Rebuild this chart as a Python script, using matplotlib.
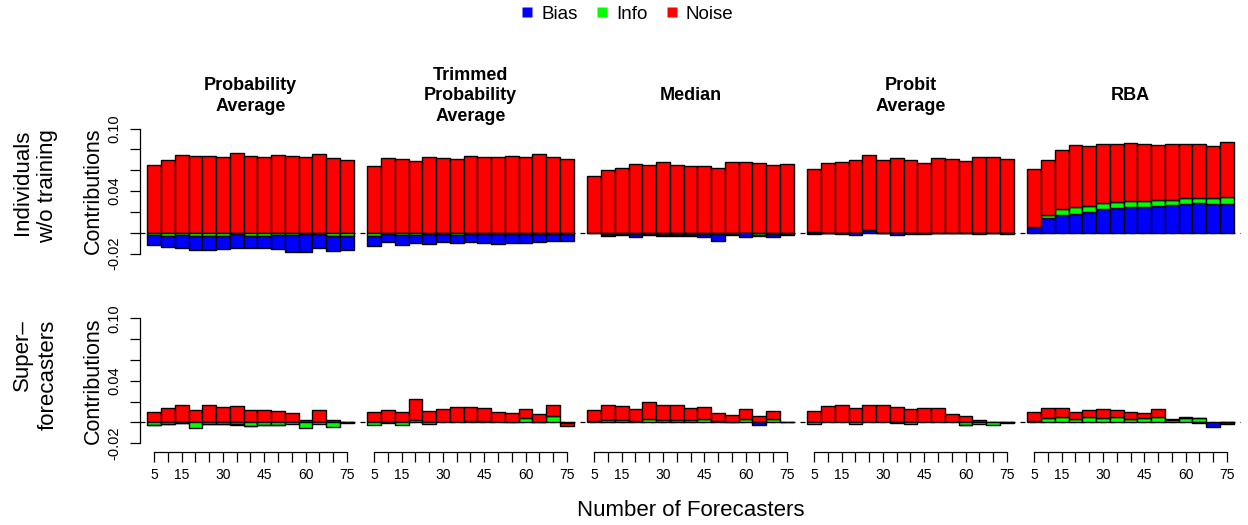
import numpy as np
import matplotlib
matplotlib.use("Agg")
import matplotlib.pyplot as plt
from matplotlib.lines import Line2D

plt.rcParams['font.family'] = ['Liberation Sans', 'DejaVu Sans']

# ---- data ----
n_forecasters = [5, 10, 15, 20, 25, 30, 35, 40, 45, 50, 55, 60, 65, 70, 75]
shown_labels = [5, 15, 30, 45, 60, 75]
methods = ["Probability\nAverage", "Trimmed\nProbability\nAverage", "Median",
           "Probit\nAverage", "RBA"]
groups = ["Individuals\nw/o training", "Super\u2013\nforecasters"]

# individuals without training: one row per method
bias_untrained = [
    [-0.0093, -0.0104, -0.013, -0.0136, -0.0136, -0.0118, -0.0134, -0.012, -0.0114, -0.0137, -0.0162, -0.0172, -0.014, -0.0143, -0.0133],
    [-0.0095, -0.0076, -0.0098, -0.0077, -0.0102, -0.0083, -0.0082, -0.0085, -0.0088, -0.0097, -0.0094, -0.0088, -0.0078, -0.0075, -0.0067],
    [0.0, -0.0025, -0.0002, -0.0035, -0.001, -0.0025, -0.002, -0.002, -0.003, -0.006, -0.0015, -0.004, -0.0008, -0.0025, -0.0015],
    [-0.001, -0.0002, -0.0008, -0.0012, 0.0025, -0.0002, -0.002, -0.0005, 0.0, -0.0002, -0.0002, -0.0002, -0.0005, -0.0002, -0.0005],
    [0.0051, 0.0137, 0.0166, 0.0179, 0.0198, 0.0224, 0.024, 0.0243, 0.0246, 0.0256, 0.0265, 0.0275, 0.0281, 0.0275, 0.0272],
]
info_untrained = [
    [-0.0025, -0.003, -0.002, -0.003, -0.003, -0.0035, -0.001, -0.003, -0.003, -0.002, -0.002, -0.001, -0.001, -0.003, -0.003],
    [-0.003, -0.001, -0.002, -0.0025, -0.001, -0.001, -0.002, -0.0008, -0.0008, -0.0008, -0.0008, -0.0008, -0.0008, -0.0008, -0.001],
    [-0.0003, -0.001, -0.0015, -0.001, -0.0015, -0.001, -0.0015, -0.001, -0.0015, -0.0015, -0.001, -0.0005, -0.002, -0.0015, -0.001],
    [0.0008, -0.0003, -0.0005, -0.0005, 0.0, -0.0003, -0.0005, -0.0005, -0.0015, -0.0003, -0.0003, -0.0003, -0.0003, -0.0003, -0.0003],
    [0.0007, 0.0036, 0.0058, 0.0064, 0.0061, 0.0057, 0.0057, 0.0064, 0.0061, 0.0063, 0.0054, 0.0054, 0.0051, 0.0057, 0.0067],
]
noise_untrained = [
    [0.0655, 0.070, 0.0744, 0.0735, 0.0735, 0.0725, 0.0764, 0.0741, 0.0732, 0.0751, 0.0741, 0.0725, 0.0754, 0.0722, 0.0696],
    [0.0639, 0.0716, 0.0709, 0.0687, 0.0732, 0.0722, 0.0709, 0.0738, 0.0725, 0.0725, 0.0741, 0.0732, 0.0754, 0.0728, 0.0712],
    [0.0546, 0.0607, 0.062, 0.0661, 0.0652, 0.0677, 0.0649, 0.0645, 0.0639, 0.062, 0.0677, 0.0684, 0.0668, 0.0649, 0.0661],
    [0.0602, 0.0665, 0.0684, 0.0696, 0.0719, 0.0703, 0.0716, 0.070, 0.0674, 0.0722, 0.0709, 0.0687, 0.0725, 0.0728, 0.0712],
    [0.0555, 0.053, 0.0568, 0.0597, 0.0578, 0.0575, 0.0553, 0.0556, 0.0549, 0.0524, 0.0531, 0.0527, 0.0524, 0.0505, 0.053],
]

# superforecasters
bias_super = [
    [-0.0005, -0.0003, -0.0002, 0.0, -0.0003, -0.0003, -0.0005, -0.0003, -0.0002, -0.0003, 0.0, 0.0, 0.0005, 0.0, 0.0],
    [0.0, -0.0003, 0.0, 0.0, 0.0, 0.0, 0.0, 0.0, 0.0, 0.0, 0.0, 0.0, 0.0, 0.0, 0.0],
    [0.0, 0.0, 0.0, 0.0, 0.0, 0.0, 0.0, 0.0, 0.0, 0.0, 0.0, 0.0, -0.002, 0.0, 0.0],
    [0.0, 0.0, 0.0, 0.0, 0.0, 0.0, 0.0, 0.0, 0.0, 0.0, 0.0, -0.0005, 0.0, 0.0, 0.0],
    [0.0, 0.0, 0.0, 0.0, 0.0, 0.0, 0.0, 0.0, 0.0, 0.0, 0.0, 0.0, -0.0005, -0.004, -0.001],
]
info_super = [
    [-0.002, -0.001, -0.0005, -0.005, -0.001, -0.0015, -0.0015, -0.003, -0.002, -0.002, -0.0015, -0.005, -0.001, -0.004, -0.0005],
    [-0.002, 0.0, -0.002, 0.0025, -0.001, 0.0, 0.0, 0.001, 0.001, 0.0, 0.0008, 0.004, 0.0005, 0.006, -0.0005],
    [0.001, 0.0025, 0.002, 0.001, 0.003, 0.002, 0.002, 0.002, 0.003, 0.001, 0.0008, 0.003, 0.0008, 0.003, 0.0003],
    [-0.001, 0.0, 0.0, -0.001, 0.0, 0.0, -0.0005, -0.001, 0.0, 0.0, 0.0, -0.002, -0.0015, -0.002, -0.0005],
    [0.001, 0.0042, 0.0048, 0.0032, 0.0048, 0.0042, 0.0048, 0.0035, 0.0042, 0.0051, 0.0026, 0.0042, 0.004, 0.0, 0.0],
]
noise_super = [
    [0.0096, 0.014, 0.0172, 0.0121, 0.0166, 0.0153, 0.016, 0.0121, 0.0121, 0.0109, 0.0089, 0.0026, 0.0115, 0.0019, 0.0006],
    [0.0096, 0.0115, 0.0102, 0.0205, 0.0112, 0.0128, 0.015, 0.014, 0.0127, 0.0102, 0.0085, 0.0094, 0.0075, 0.0112, -0.0025],
    [0.0105, 0.0147, 0.014, 0.0124, 0.0165, 0.0143, 0.0143, 0.0117, 0.0117, 0.0079, 0.0062, 0.0104, 0.0053, 0.0082, 0.0003],
    [0.0109, 0.0156, 0.0166, 0.014, 0.0163, 0.0169, 0.0144, 0.0131, 0.014, 0.0137, 0.0083, 0.0061, 0.0019, 0.0006, 0.0003],
    [0.0086, 0.0098, 0.0089, 0.0064, 0.007, 0.0089, 0.0073, 0.0064, 0.0051, 0.008, 0.0009, 0.0009, 0.0002, 0.0, 0.0006],
]

colors = {"Bias": "#0000FF", "Info": "#00FF00", "Noise": "#FF0000"}

W, H = 1248, 525
fig = plt.figure(figsize=(W / 100, H / 100), dpi=100)


def px_axes(x0, y0, w, h):
    return fig.add_axes([x0 / W, 1 - (y0 + h) / H, w / W, h / H])


def draw_stack(ax, bias, info, noise):
    x = np.arange(len(n_forecasters))
    vals = {"Bias": np.array(bias), "Info": np.array(info), "Noise": np.array(noise)}
    pos = np.zeros(len(x))
    neg = np.zeros(len(x))
    # positive parts stack upward, negative parts stack downward
    for name in ["Bias", "Info", "Noise"]:
        p = np.clip(vals[name], 0, None)
        m = p > 0
        ax.bar(x[m], p[m], bottom=pos[m], width=1.0, color=colors[name],
               edgecolor="black", linewidth=1.0)
        pos += p
    for name in ["Info", "Bias", "Noise"]:
        n = np.clip(vals[name], None, 0)
        m = n < 0
        ax.bar(x[m], n[m], bottom=neg[m], width=1.0, color=colors[name],
               edgecolor="black", linewidth=1.0)
        neg += n


row_data = [(bias_untrained, info_untrained, noise_untrained),
            (bias_super, info_super, noise_super)]
row_top = [123.6, 313.3]
panel_h = 135.0
panel_w = 220.2
left0 = 140.4
ylim = (-0.0248, 0.1048)

for r, (bias, info, noise) in enumerate(row_data):
    for c in range(len(methods)):
        ax = px_axes(left0 + 220 * c, row_top[r], panel_w, panel_h)
        draw_stack(ax, bias[c], info[c], noise[c])
        ax.axhline(0, color="black", lw=0.9, ls=(0, (4, 4)), zorder=0)
        ax.set_xlim(-1, 15)
        ax.set_ylim(*ylim)
        for s in ["top", "right"]:
            ax.spines[s].set_visible(False)
        if c == 0:
            ax.spines["left"].set_bounds(-0.02, 0.10)
            ax.spines["left"].set_linewidth(0.9)
            yt = np.round(np.arange(-0.02, 0.1001, 0.02), 2)
            ax.set_yticks(yt)
            ax.set_yticklabels([f"{v:.2f}" if v in (-0.02, 0.04, 0.10) else "" for v in yt],
                               rotation=90, va="center", fontsize=10.5)
            ax.tick_params(axis="y", length=7, width=0.9, pad=6.5)
        else:
            ax.spines["left"].set_visible(False)
            ax.set_yticks([])
        if r == 1:
            ax.spines["bottom"].set_position(("outward", 3))
            ax.spines["bottom"].set_bounds(0, 14)
            ax.spines["bottom"].set_linewidth(0.9)
            ax.set_xticks(np.arange(len(n_forecasters)))
            ax.set_xticklabels([str(n) if n in shown_labels else "" for n in n_forecasters],
                               fontsize=10)
            ax.tick_params(axis="x", length=7, width=0.9, pad=4)
        else:
            ax.spines["bottom"].set_visible(False)
            ax.set_xticks([])
        if r == 0:
            fig.text((left0 + 220 * c + panel_w / 2) / W, 1 - 96 / H, methods[c],
                     ha="center", va="center", fontsize=13, fontweight="bold",
                     linespacing=1.25)

    mid = row_top[r] + panel_h / 2
    fig.text(93 / W, 1 - mid / H, "Contributions", rotation=90,
             ha="center", va="center", fontsize=15.5)
    fig.text(35 / W, 1 - (row_top[r] + 6) / H, groups[r], rotation=90,
             ha="center", va="top", ma="right", fontsize=16, linespacing=1.3)

fig.text((left0 + 550) / W, 1 - 510 / H, "Number of Forecasters",
         ha="center", va="center", fontsize=16)

handles = [Line2D([], [], ls="none", marker="s", markersize=7,
                  markerfacecolor=colors[k], markeredgecolor="none") for k in colors]
fig.legend(handles, list(colors), loc="center", bbox_to_anchor=(0.502, 1 - 14 / H),
           ncol=3, frameon=False, fontsize=13.5, handlelength=0.8,
           handletextpad=0.35, columnspacing=0.9)

fig.savefig("out.png", dpi=100)
